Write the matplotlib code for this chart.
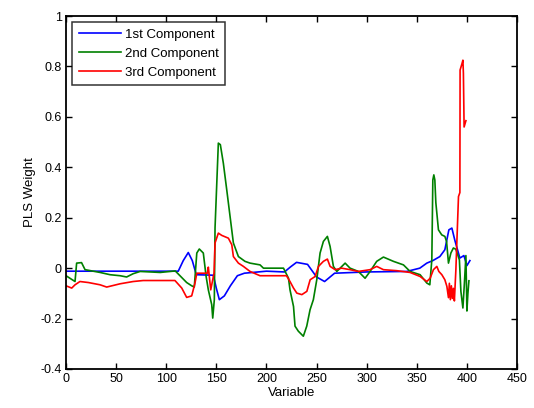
import matplotlib
matplotlib.use("Agg")
import matplotlib.pyplot as plt

plt.rcParams['font.family'] = ['Liberation Sans', 'DejaVu Sans']

# values (variable index, weight)
comp1_x = [0, 112, 117, 122, 126, 130, 147, 150, 153, 158, 164, 171, 178, 200, 218, 224, 230,
           241, 250, 258, 268, 300, 340, 353, 360, 366, 373, 378, 382, 385, 388, 393, 397, 400, 403]
comp1_y = [-0.012, -0.012, 0.03, 0.062, 0.03, -0.026, -0.028, -0.08, -0.125, -0.11, -0.07, -0.03,
           -0.02, -0.012, -0.015, 0.005, 0.023, 0.015, -0.035, -0.053, -0.02, -0.015, -0.013, 0.0,
           0.02, 0.03, 0.046, 0.073, 0.152, 0.159, 0.11, 0.04, 0.05, 0.01, 0.03]

comp2_x = [0, 9, 10.6, 15.5, 19, 34, 44, 54, 60.5, 67, 74, 94, 109, 120.4, 125.4, 128, 130.5,
           133, 137, 139.8, 142, 145.4, 146.4, 148, 148.7, 152, 154, 157, 160.4, 163.7, 167, 172,
           178.6, 183.6, 193.6, 197, 217, 222, 223.5, 227, 228.5, 231.8, 236.8, 240.2, 243.5,
           246.8, 250.2, 253.5, 256.8, 260.8, 263.5, 266.8, 270.2, 278.5, 283.4, 291.7, 298.4,
           303.4, 310, 316.7, 326.7, 336.7, 343.3, 353.3, 360, 363, 365, 366, 367, 368, 369, 371.6,
           374.9, 378, 379.7, 381.6, 384, 386.5, 389, 392.5, 394, 396, 397.5, 399, 400, 401, 402]
comp2_y = [-0.03, -0.053, 0.02, 0.022, -0.006, -0.017, -0.026, -0.03, -0.035, -0.022, -0.013,
           -0.017, -0.011, -0.057, -0.07, -0.075, 0.06, 0.076, 0.06, -0.033, -0.086, -0.145, -0.198,
           -0.125, 0.16, 0.496, 0.49, 0.416, 0.31, 0.205, 0.1, 0.046, 0.027, 0.02, 0.013, 0.0, 0.0,
           -0.04, -0.086, -0.152, -0.23, -0.25, -0.27, -0.23, -0.165, -0.125, -0.046, 0.06, 0.106,
           0.126, 0.086, 0.007, -0.013, 0.02, 0.0, -0.013, -0.04, -0.013, 0.027, 0.044, 0.027,
           0.013, -0.013, -0.026, -0.059, -0.066, 0.033, 0.35, 0.37, 0.35, 0.26, 0.152, 0.132,
           0.126, 0.106, 0.02, 0.06, 0.08, 0.075, 0.033, -0.092, -0.158, -0.06, 0.05, -0.17, -0.1,
           -0.05]

comp3_x = [0, 5.7, 9, 13.9, 22.3, 34, 40.6, 54, 67, 77, 108.7, 115.5, 120.4, 125.4, 128.7,
           130.5, 141, 142, 144.4, 147.7, 148.7, 152, 155.4, 162, 165.4, 167, 172, 177, 183.6,
           193.6, 220, 223.5, 227, 230.3, 235.3, 240.3, 243.6, 248.6, 251.9, 256.8, 260.8, 263.5,
           268.5, 275, 283.4, 291.7, 303.4, 310, 316.7, 330, 343.3, 353.3, 360, 363.3, 366.6, 370,
           372, 375, 378, 380, 381.6, 382.5, 383.5, 384.5, 385.5, 386.5, 387.5, 389, 390, 391.6,
           393, 393.2, 395, 396, 396.5, 397.2, 399]
comp3_y = [-0.07, -0.079, -0.066, -0.053, -0.057, -0.066, -0.075, -0.062, -0.053, -0.049,
           -0.049, -0.079, -0.116, -0.11, -0.059, -0.02, -0.02, 0.004, -0.086, -0.02, 0.1, 0.139,
           0.13, 0.119, 0.093, 0.046, 0.02, 0.007, -0.013, -0.03, -0.03, -0.053, -0.079, -0.099,
           -0.105, -0.092, -0.046, -0.033, 0.007, 0.027, 0.036, 0.007, -0.006, 0.0, -0.006,
           -0.013, -0.006, 0.007, -0.006, -0.01, -0.017, -0.033, -0.053, -0.04, -0.006, 0.007,
           -0.013, -0.026, -0.046, -0.072, -0.117, -0.06, -0.125, -0.07, -0.12, -0.08, -0.13,
           -0.006, 0.106, 0.284, 0.3, 0.786, 0.81, 0.825, 0.773, 0.56, 0.585]

fig = plt.figure(figsize=(5.34, 4.08), dpi=100)
ax = fig.add_axes([0.1236, 0.0956, 0.8446, 0.865])

ax.plot(comp1_x, comp1_y, color='#0000ff', lw=1.2, label='1st Component')
ax.plot(comp2_x, comp2_y, color='#008000', lw=1.2, label='2nd Component')
ax.plot(comp3_x, comp3_y, color='#ff0000', lw=1.2, label='3rd Component')

ax.set_xlim(0, 450)
ax.set_ylim(-0.4, 1)
ax.set_xticks(range(0, 451, 50))
ax.set_yticks([-0.4, -0.2, 0, 0.2, 0.4, 0.6, 0.8, 1])
ax.set_yticklabels(['-0.4', '-0.2', '0', '0.2', '0.4', '0.6', '0.8', '1'])
ax.tick_params(direction='in', top=True, right=True, labelsize=9, length=4, width=1, pad=3)
for s in ax.spines.values():
    s.set_linewidth(1.3)

ax.set_xlabel('Variable', fontsize=9.5, labelpad=1)
ax.set_ylabel('PLS Weight', fontsize=9.5, labelpad=3)

leg = ax.legend(loc='upper left', fontsize=9.5, frameon=True, fancybox=False,
                borderpad=0.5, handlelength=3.2, handletextpad=0.3, labelspacing=0.5,
                borderaxespad=0.45)
leg.get_frame().set_edgecolor('black')
leg.get_frame().set_linewidth(1.1)

fig.savefig('out.png', dpi=100)
